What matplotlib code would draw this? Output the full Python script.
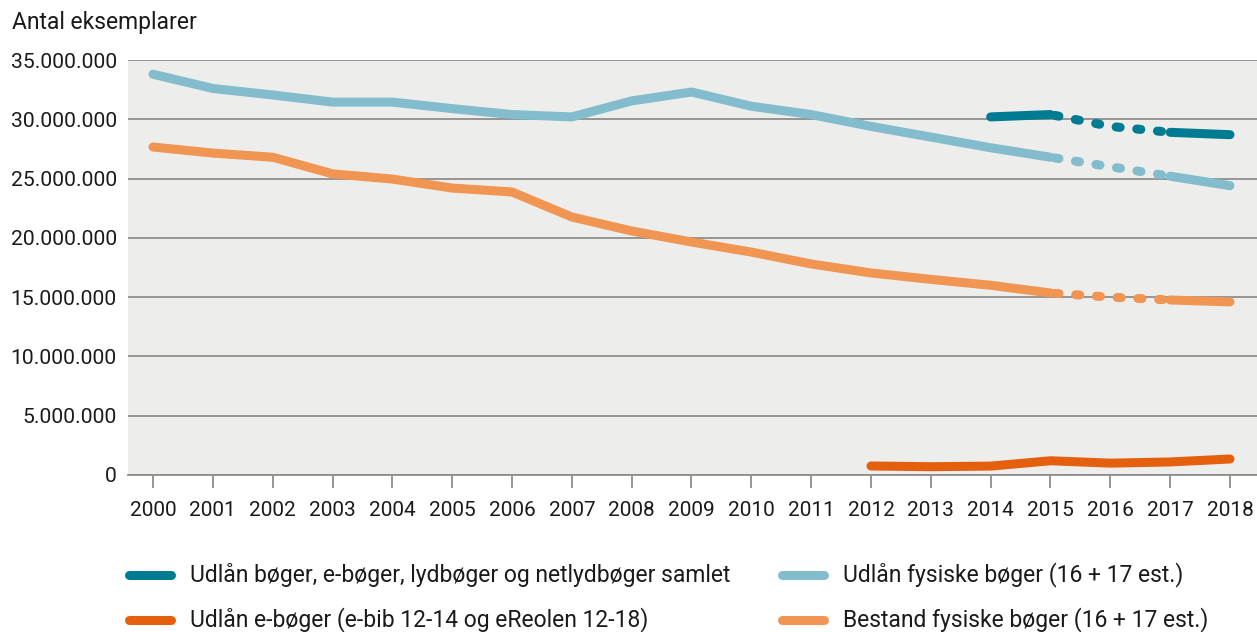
import matplotlib
matplotlib.use("Agg")
import matplotlib.pyplot as plt
from matplotlib.lines import Line2D
from matplotlib.ticker import FuncFormatter

plt.rcParams['font.family'] = ['Roboto', 'DejaVu Sans']

years = list(range(2000, 2019))

# Udlån fysiske bøger (16 + 17 est.)
fysiske_udlaan = [33.8, 32.6, 32.05, 31.45, 31.45, 30.9, 30.4, 30.2, 31.55, 32.3,
                  31.1, 30.4, 29.4, 28.5, 27.6, 26.8, 26.0, 25.2, 24.4]
# Bestand fysiske bøger (16 + 17 est.)
bestand = [27.66, 27.15, 26.8, 25.4, 24.96, 24.2, 23.87, 21.76, 20.58, 19.65,
           18.8, 17.8, 17.04, 16.5, 16.0, 15.35, 15.0, 14.76, 14.6]
# Udlån bøger, e-bøger, lydbøger og netlydbøger samlet (2014-2018)
samlet_years = [2014, 2015, 2016, 2017, 2018]
samlet = [30.2, 30.4, 29.4, 28.9, 28.7]
# Udlån e-bøger (2012-2018)
ebog_years = [2012, 2013, 2014, 2015, 2016, 2017, 2018]
ebog = [0.76, 0.70, 0.75, 1.2, 1.0, 1.1, 1.35]

labels = ['Udlån bøger, e-bøger, lydbøger og netlydbøger samlet',
          'Udlån fysiske bøger (16 + 17 est.)',
          'Udlån e-bøger (e-bib 12-14 og eReolen 12-18)',
          'Bestand fysiske bøger (16 + 17 est.)']

c_samlet = '#007c92'
c_fys = '#83bccd'
c_ebog = '#e5600e'
c_best = '#f09552'

LW = 6.5
dots = (0.45, 1.85)

fig = plt.figure(figsize=(12.57, 6.32), dpi=100)
ax = fig.add_axes([128 / 1257, 1 - 475 / 632, 1 - 128 / 1257, (475 - 60) / 632])
ax.set_facecolor('#ededeb')


def draw(xs, ys, color, est_from=None, est_to=None):
    """solid line, with dotted part between est_from and est_to"""
    kw = dict(color=color, lw=LW, solid_capstyle='round', dash_capstyle='round', zorder=3)
    if est_from is None:
        ax.plot(xs, ys, **kw)
        return
    i0 = xs.index(est_from)
    i1 = xs.index(est_to)
    ax.plot(xs[:i0 + 1], ys[:i0 + 1], **kw)
    ax.plot(xs[i0:i1 + 1], ys[i0:i1 + 1], linestyle=(1.8, dots), **kw)
    ax.plot(xs[i1:], ys[i1:], **kw)


draw(years, fysiske_udlaan, c_fys, 2015, 2017)
draw(years, bestand, c_best, 2015, 2017)
draw(samlet_years, samlet, c_samlet, 2015, 2017)
draw(ebog_years, ebog, c_ebog)

ax.set_xlim(2000 - 25 / 59.83, 2018 + 27 / 59.83)
ax.set_ylim(0, 35)
ax.set_yticks(range(0, 36, 5))
ax.yaxis.set_major_formatter(FuncFormatter(lambda v, p: f'{int(v * 1e6):,}'.replace(',', '.')))
ax.set_xticks(years)
ax.grid(axis='y', color='#8e8e8e', lw=1.3, zorder=1)
for s in ['top', 'right', 'left']:
    ax.spines[s].set_visible(False)
ax.spines['bottom'].set_color('#8e8e8e')
ax.spines['bottom'].set_linewidth(1.3)
ax.tick_params(axis='y', length=0, pad=8, labelsize=15.2, colors='#1a1a1a')
ax.tick_params(axis='x', length=9, width=1.3, color='#8e8e8e', pad=10, labelsize=15,
               labelcolor='#1a1a1a')

fig.text(12 / 1257, 1 - 22 / 632, 'Antal eksemplarer', fontsize=16.5, color='#1a1a1a',
         va='center', ha='left')

# legend drawn by hand, two columns
entries = [(125, 575, c_samlet, labels[0]), (778, 575, c_fys, labels[1]),
           (125, 620, c_ebog, labels[2]), (778, 620, c_best, labels[3])]
for x, y, col, lab in entries:
    fy = 1 - y / 632
    fig.add_artist(Line2D([(x + 4) / 1257, (x + 46) / 1257], [fy, fy], color=col, lw=LW,
                          solid_capstyle='round', transform=fig.transFigure))
    fig.text((x + 65) / 1257, fy, lab, fontsize=16.5, color='#1a1a1a', va='center', ha='left')

fig.savefig('out.png', dpi=100)
